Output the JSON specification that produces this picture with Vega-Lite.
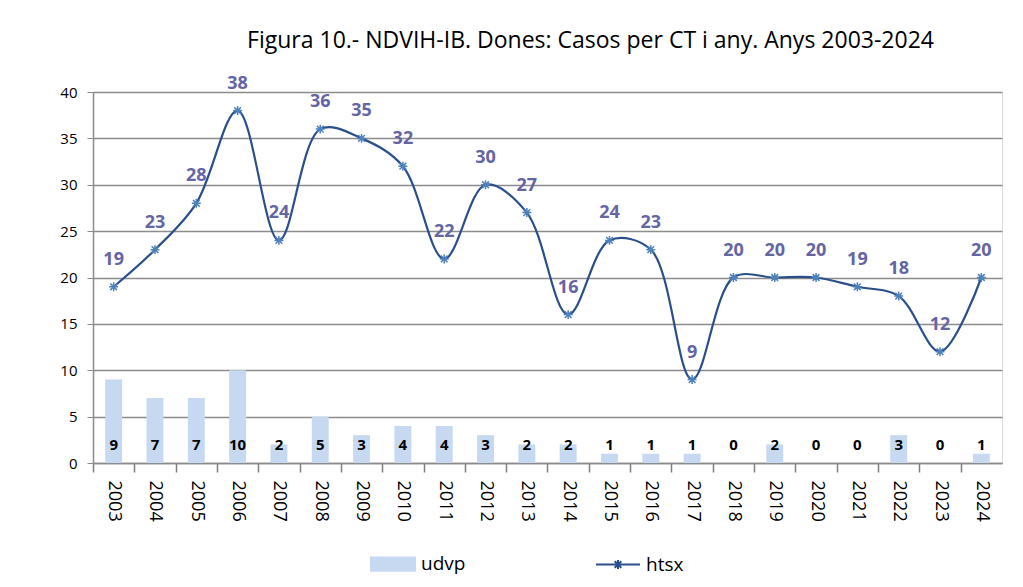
{
  "$schema": "https://vega.github.io/schema/vega-lite/v6.json",
  "autosize": {"type": "none"},
  "padding": {"left": 93, "top": 92, "right": 21, "bottom": 124},
  "width": 909,
  "height": 371,
  "background": "white",
  "title": {
    "text": "Figura 10.- NDVIH-IB. Dones: Casos  per CT i any. Anys 2003-2024",
    "font": "Open Sans",
    "fontSize": 23,
    "fontWeight": "normal",
    "color": "#000000",
    "anchor": "middle",
    "dx": 43,
    "offset": 22
  },
  "data": {
    "values": [
      {"year": "2003", "udvp": 9, "htsx": 19},
      {"year": "2004", "udvp": 7, "htsx": 23},
      {"year": "2005", "udvp": 7, "htsx": 28},
      {"year": "2006", "udvp": 10, "htsx": 38},
      {"year": "2007", "udvp": 2, "htsx": 24},
      {"year": "2008", "udvp": 5, "htsx": 36},
      {"year": "2009", "udvp": 3, "htsx": 35},
      {"year": "2010", "udvp": 4, "htsx": 32},
      {"year": "2011", "udvp": 4, "htsx": 22},
      {"year": "2012", "udvp": 3, "htsx": 30},
      {"year": "2013", "udvp": 2, "htsx": 27},
      {"year": "2014", "udvp": 2, "htsx": 16},
      {"year": "2015", "udvp": 1, "htsx": 24},
      {"year": "2016", "udvp": 1, "htsx": 23},
      {"year": "2017", "udvp": 1, "htsx": 9},
      {"year": "2018", "udvp": 0, "htsx": 20},
      {"year": "2019", "udvp": 2, "htsx": 20},
      {"year": "2020", "udvp": 0, "htsx": 20},
      {"year": "2021", "udvp": 0, "htsx": 19},
      {"year": "2022", "udvp": 3, "htsx": 18},
      {"year": "2023", "udvp": 0, "htsx": 12},
      {"year": "2024", "udvp": 1, "htsx": 20}
    ]
  },
  "encoding": {
    "x": {
      "field": "year",
      "type": "ordinal",
      "title": null,
      "scale": {"paddingInner": 0, "paddingOuter": 0},
      "axis": {
        "labelAngle": 90,
        "labelAlign": "left",
        "labelBaseline": "middle",
        "labelFont": "Open Sans",
        "labelFontSize": 18,
        "labelColor": "#000000",
        "labelPadding": 8,
        "domainColor": "#8c8c8c",
        "domainWidth": 1.5,
        "ticks": true,
        "tickColor": "#7f7f7f",
        "tickWidth": 1.5,
        "tickSize": 9,
        "tickOffset": -20.66,
        "labelOffset": 20.66,
        "grid": false
      }
    }
  },
  "layer": [
    {
      "mark": {"type": "bar", "color": "#C6D9F1", "width": {"band": 0.41}},
      "encoding": {
        "y": {
          "field": "udvp",
          "type": "quantitative",
          "title": null,
          "scale": {"domain": [0, 40], "nice": false},
          "axis": {
            "values": [0, 5, 10, 15, 20, 25, 30, 35, 40],
            "labelFont": "Open Sans",
            "labelFontSize": 15,
            "labelColor": "#000000",
            "labelPadding": 10,
            "gridColor": "#8c8c8c",
            "gridWidth": 1.5,
            "domainColor": "#8c8c8c",
            "domainWidth": 1.5,
            "tickColor": "#8c8c8c",
            "tickSize": 6
          }
        },
        "color": {
          "datum": "udvp",
          "type": "nominal",
          "scale": {"domain": ["udvp", "htsx"], "range": ["#C6D9F1", "#2A4F8A"]},
          "legend": {
            "orient": "none",
            "legendX": 277,
            "legendY": 449,
            "direction": "horizontal",
            "title": null,
            "labelFont": "Open Sans",
            "labelFontSize": 19,
            "labelColor": "#000000",
            "labelOffset": 5,
            "columnPadding": 126,
            "symbolSize": 1936,
            "symbolStrokeWidth": 2,
            "encode": {
              "symbols": {
                "update": {
                  "shape": {"signal": "datum.value === 'udvp' ? 'M-1,-0.3H1V0.3H-1Z' : 'M-1,0H1M-0.2,0H0.2M0,-0.2V0.2M-0.15,-0.15L0.15,0.15M-0.15,0.15L0.15,-0.15'"},
                  "fill": {"signal": "datum.value === 'udvp' ? '#C6D9F1' : 'transparent'"},
                  "stroke": {"signal": "datum.value === 'udvp' ? 'transparent' : '#2A4F8A'"},
                  "strokeWidth": {"value": 2}
                }
              }
            }
          }
        }
      }
    },
    {
      "mark": {"type": "text", "font": "Open Sans", "fontSize": 15, "fontWeight": "bold", "color": "#000000", "baseline": "middle"},
      "encoding": {
        "y": {"datum": 1.95, "type": "quantitative"},
        "text": {"field": "udvp", "type": "quantitative"}
      }
    },
    {
      "mark": {"type": "line", "interpolate": "catmull-rom", "strokeWidth": 2.2},
      "encoding": {
        "y": {"field": "htsx", "type": "quantitative"},
        "color": {"datum": "htsx", "type": "nominal"}
      }
    },
    {
      "mark": {
        "type": "point",
        "shape": "M-1,0H1M0,-1V1M-0.75,-0.75L0.75,0.75M-0.75,0.75L0.75,-0.75",
        "filled": false,
        "size": 80,
        "strokeWidth": 1.5,
        "color": "#4F81BD",
        "opacity": 1
      },
      "encoding": {
        "y": {"field": "htsx", "type": "quantitative"}
      }
    },
    {
      "mark": {"type": "text", "font": "Open Sans", "fontSize": 18, "fontWeight": "bold", "color": "#6465A3", "baseline": "middle", "dy": -27},
      "encoding": {
        "y": {"field": "htsx", "type": "quantitative"},
        "text": {"field": "htsx", "type": "quantitative"}
      }
    }
  ]
}
